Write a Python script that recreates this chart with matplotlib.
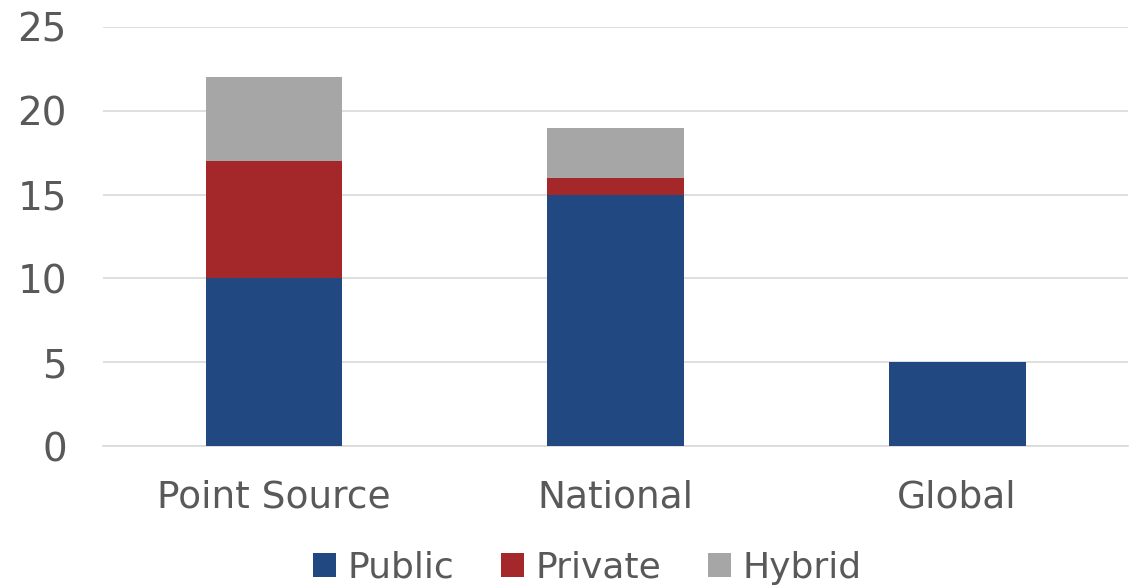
import numpy as np
import matplotlib.pyplot as plt

categories = ['Point Source', 'National', 'Global']
public = [10, 15, 5]
private = [7, 1, 0]
hybrid = [5, 3, 0]

colors = {'Public': '#214881', 'Private': '#A4282A', 'Hybrid': '#A6A6A6'}
text_color = '#595959'

plt.rcParams['font.family'] = ['DejaVu Sans']

fig = plt.figure(figsize=(11.4, 5.88), dpi=100)
ax = fig.add_axes([103 / 1140, 1 - 446 / 588, 1025 / 1140, (446 - 27) / 588])

x = np.arange(len(categories))
w = 0.40
ax.bar(x, public, w, color=colors['Public'], label='Public', zorder=3)
ax.bar(x, private, w, bottom=public, color=colors['Private'], label='Private', zorder=3)
bottom2 = np.array(public) + np.array(private)
ax.bar(x, hybrid, w, bottom=bottom2, color=colors['Hybrid'], label='Hybrid', zorder=3)

ax.set_ylim(0, 25)
ax.set_xlim(-0.5, len(categories) - 0.5)
ax.set_yticks(range(0, 26, 5))
ax.set_xticks(x)
ax.set_xticklabels(categories)
ax.yaxis.grid(True, color='#D9D9D9', linewidth=1.2, zorder=0)
ax.tick_params(axis='y', length=0, labelsize=28, colors=text_color, pad=26)
ax.tick_params(axis='x', length=0, labelsize=27, colors=text_color, pad=24)
for s in ['top', 'right', 'left']:
    ax.spines[s].set_visible(False)
ax.spines['bottom'].set_color('#D9D9D9')
ax.spines['bottom'].set_linewidth(1.2)

leg = fig.legend(loc='center', ncol=3, frameon=False, fontsize=26,
                 bbox_to_anchor=(0.515, 1 - 568 / 588), handlelength=0.65, handleheight=0.65,
                 handletextpad=0.3, columnspacing=1.3, borderpad=0)
for t in leg.get_texts():
    t.set_color(text_color)

fig.savefig('out.png', dpi=100)
